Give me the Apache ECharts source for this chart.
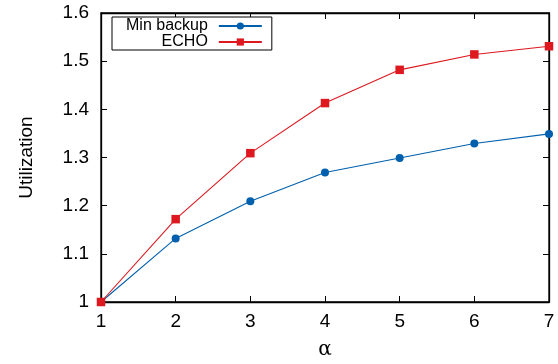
<!DOCTYPE html>
<html><head><meta charset="utf-8">
<script src="https://cdn.jsdelivr.net/npm/echarts@6/dist/echarts.min.js"></script>
<style>html,body{margin:0;padding:0;background:#fff}#c{width:558px;height:364px}</style>
</head><body><div id="c"></div>
<script>
var alphas = [1, 2, 3, 4, 5, 6, 7];
var minBackup = [1.0, 1.132, 1.209, 1.269, 1.299, 1.329, 1.349];
var echo = [1.0, 1.172, 1.309, 1.413, 1.482, 1.514, 1.531];
var seriesNames = ['Min backup', 'ECHO'];
var xTitle = 'α';
var yTitle = 'Utilization';

function pairs(xs, ys){ return xs.map(function(x,i){return [x, ys[i]];}); }
var font = 'Liberation Sans, Arial, sans-serif';
var chart = echarts.init(document.getElementById('c'));
var hidden = {show:false};
chart.setOption({
  animation:false,
  backgroundColor:'#fff',
  grid:{left:101, right:9, top:13, bottom:62, show:true, borderColor:'#000', borderWidth:1.3,
        containLabel:false, outerBoundsMode:'none'},
  legend:{
    orient:'vertical', left:112, top:17, align:'right',
    itemWidth:43, itemHeight:9, itemGap:0,
    padding:[1,9,0,14],
    borderColor:'#000', borderWidth:1, backgroundColor:'#fff',
    textStyle:{fontFamily:font, fontSize:16, color:'#000', lineHeight:16, padding:[0,6,0,0]},
    data:seriesNames
  },
  xAxis:[{
    type:'value', min:1, max:7, interval:1, position:'bottom',
    name:xTitle, nameLocation:'middle', nameGap:38,
    nameTextStyle:{fontFamily:'DejaVu Serif, serif', fontSize:20, color:'#000'},
    axisLine:{show:true, lineStyle:{color:'#000', width:1.3}},
    axisTick:{show:true, inside:true, length:6, lineStyle:{color:'#000'}},
    axisLabel:{fontFamily:font, fontSize:19, color:'#000', margin:10},
    splitLine:hidden
  },{
    type:'value', min:1, max:7, interval:1, position:'top',
    axisLine:{show:true, lineStyle:{color:'#000', width:1.3}},
    axisTick:{show:true, inside:true, length:6, lineStyle:{color:'#000'}},
    axisLabel:hidden, splitLine:hidden
  }],
  yAxis:[{
    type:'value', min:1, max:1.6, interval:0.1, position:'left',
    name:yTitle, nameLocation:'middle', nameGap:65, nameRotate:90,
    nameTextStyle:{fontFamily:font, fontSize:19, color:'#000'},
    axisLine:{show:true, lineStyle:{color:'#000', width:1.3}},
    axisTick:{show:true, inside:true, length:6, lineStyle:{color:'#000'}},
    axisLabel:{fontFamily:font, fontSize:19, color:'#000', margin:12,
      formatter:function(v){ return String(Math.round(v*10)/10); }},
    splitLine:hidden
  },{
    type:'value', min:1, max:1.6, interval:0.1, position:'right',
    axisLine:{show:true, lineStyle:{color:'#000', width:1.3}},
    axisTick:{show:true, inside:true, length:6, lineStyle:{color:'#000'}},
    axisLabel:hidden, splitLine:hidden
  }],
  series:[{
    name:seriesNames[0], type:'line', data:pairs(alphas, minBackup),
    symbol:'circle', symbolSize:8, color:'#0060ad',
    lineStyle:{width:1.1, color:'#0060ad'}, itemStyle:{color:'#0060ad'}, z:3
  },{
    name:seriesNames[1], type:'line', data:pairs(alphas, echo),
    symbol:'rect', symbolSize:8.5, color:'#dd181f',
    lineStyle:{width:1.1, color:'#dd181f'}, itemStyle:{color:'#dd181f'}, z:4
  }]
});
</script></body></html>
